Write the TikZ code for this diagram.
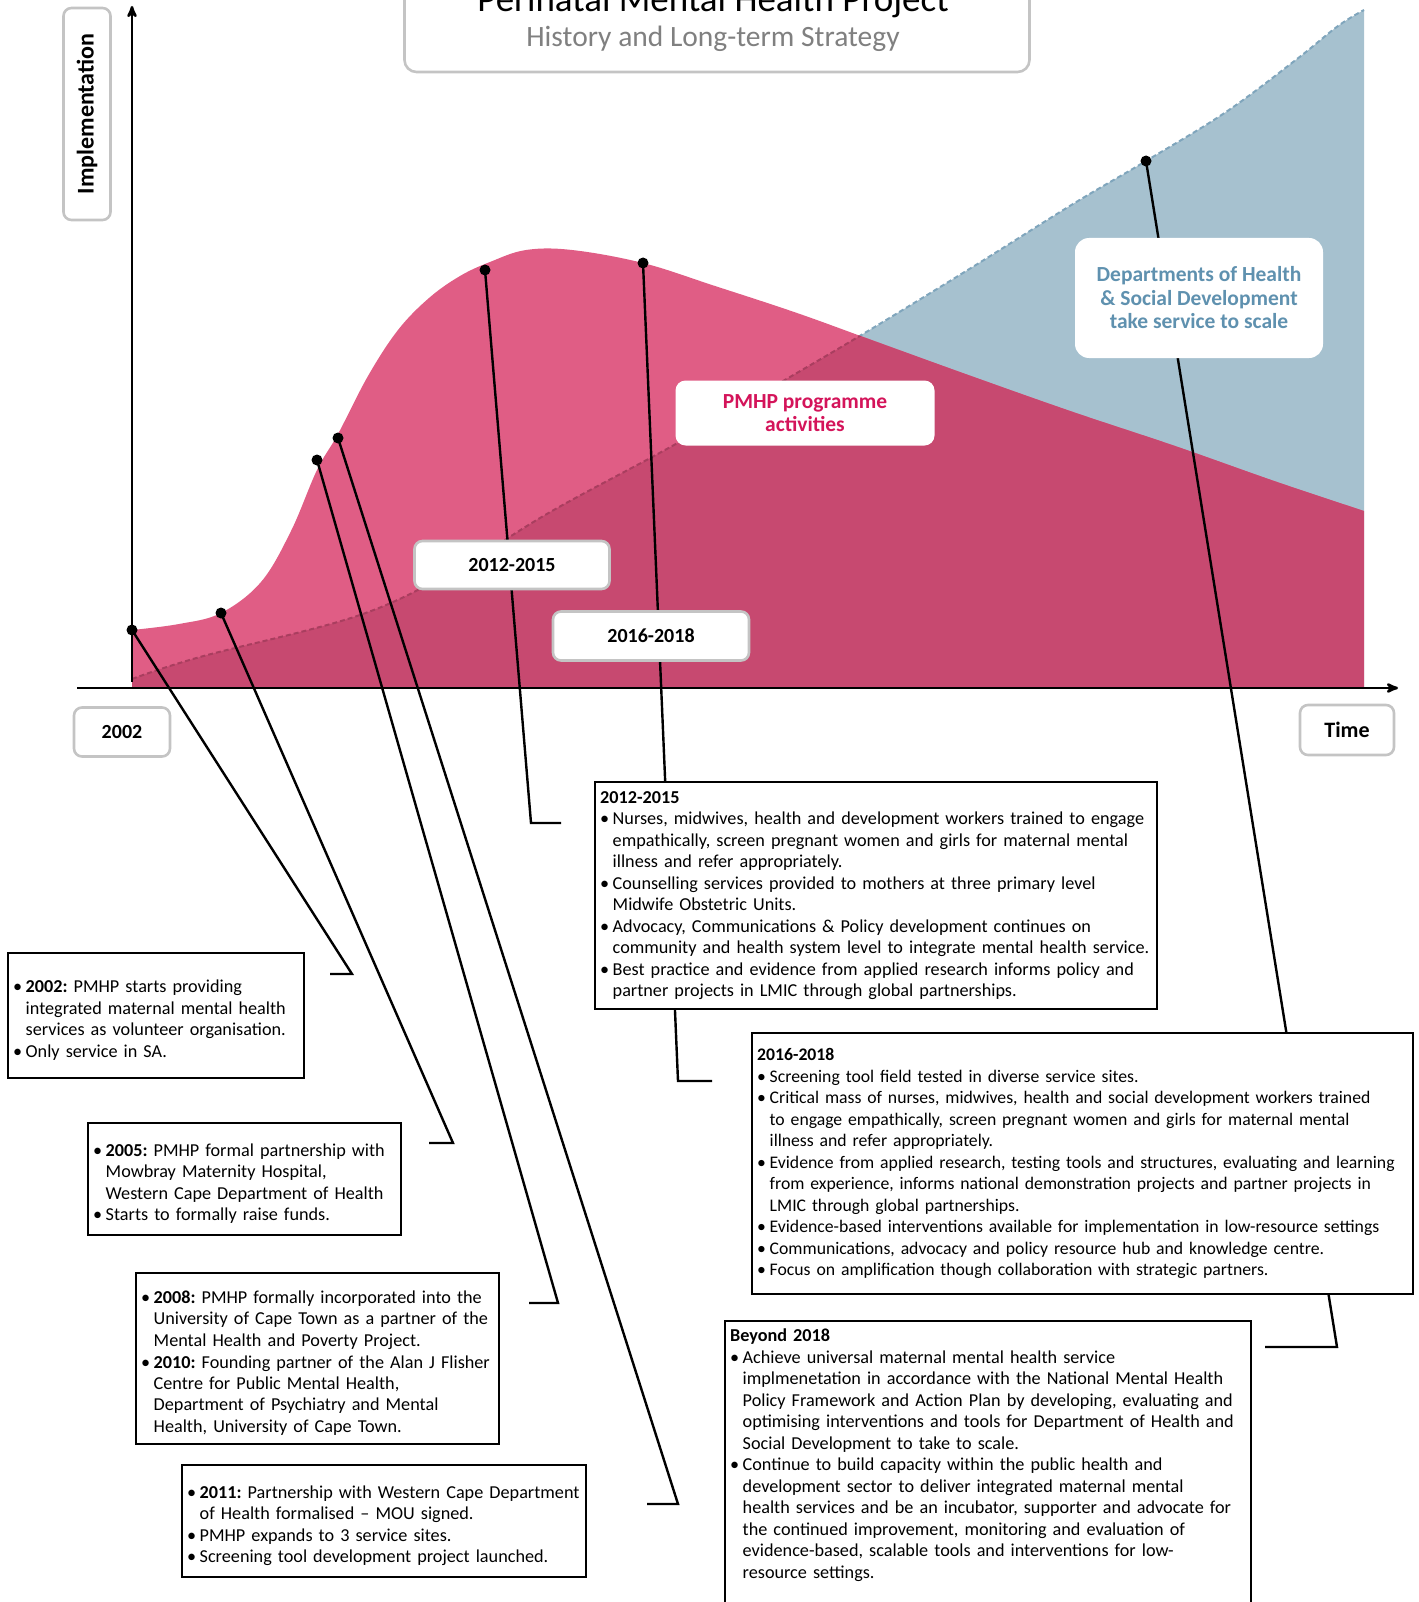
\documentclass[tikz,border=0pt]{standalone}
\usepackage{fontspec}
\setmainfont{Carlito}
\usepackage{tikz}
\usetikzlibrary{arrows}
\definecolor{pmhppink}{HTML}{E05D85}
\definecolor{pmhpdark}{HTML}{C74970}
\definecolor{dohblue}{HTML}{A6C1CF}
\definecolor{dohline}{HTML}{7FA5BC}
\definecolor{dohtext}{HTML}{5F91AF}
\definecolor{pmhptext}{HTML}{D4145A}
\definecolor{tagborder}{HTML}{C4C4C4}
\newcommand{\bul}{\par\hangindent=12.5pt\hangafter=1\noindent\makebox[12.5pt][l]{\textbullet}}
\frenchspacing

\begin{document}
\begin{tikzpicture}[x=1pt,y=-1pt,>=stealth']
	\tikzstyle{infobox}=[draw=black,line width=2.4pt,fill=white,anchor=north west,align=left,
		inner xsep=5pt,inner ysep=6pt,font=\fontsize{18.2}{21.5}\selectfont]
	\tikzstyle{tag}=[draw=tagborder,line width=2.6pt,rounded corners=8pt,fill=white,
		font=\bfseries\fontsize{20}{24}\selectfont]
	\tikzstyle{bubble}=[fill=white,rounded corners=14pt,align=center,
		font=\bfseries\fontsize{21.5}{23.5}\selectfont]
	\tikzstyle{dot}=[circle,fill=black,inner sep=0pt,minimum size=11pt]
	\tikzstyle{conn}=[line width=2.4pt]
	\tikzstyle{axis}=[->,line width=2.6pt]

	\useasboundingbox (0,0) rectangle (1418,1602);

	% areas
	\fill[dohblue] (132,688) -- plot[smooth,tension=0.6] coordinates {(132,679) (200,657) (360,615) (460,567) (552,511) (674,445) (766,391) (858,337) (971,268) (1073,204) (1146,161) (1226,112) (1297,59) (1338,26) (1364,10)} -- (1364,688) -- cycle;
	\draw[dohline,line width=2pt,dash pattern=on 5pt off 3pt] plot[smooth,tension=0.6] coordinates {(132,679) (200,657) (360,615) (460,567) (552,511) (674,445) (766,391) (858,337) (971,268) (1073,204) (1146,161) (1226,112) (1297,59) (1338,26) (1364,10)};
	\fill[pmhppink] (132,688) -- plot[smooth,tension=0.6] coordinates {(132,630) (179,624) (221,613) (261,582) (291,531) (317,470) (338,434) (368,376) (398,330) (429,298) (460,276) (490,262) (526,250) (572,250) (643,263) (715,286) (797,313) (877,342) (971,376) (1073,412) (1175,446) (1277,482) (1364,511)} -- (1364,688) -- cycle;
	\begin{scope}
		\clip (132,688) -- plot[smooth,tension=0.6] coordinates {(132,630) (179,624) (221,613) (261,582) (291,531) (317,470) (338,434) (368,376) (398,330) (429,298) (460,276) (490,262) (526,250) (572,250) (643,263) (715,286) (797,313) (877,342) (971,376) (1073,412) (1175,446) (1277,482) (1364,511)} -- (1364,688) -- cycle;
		\fill[pmhpdark] (132,688) -- plot[smooth,tension=0.6] coordinates {(132,679) (200,657) (360,615) (460,567) (552,511) (674,445) (766,391) (858,337) (971,268) (1073,204) (1146,161) (1226,112) (1297,59) (1338,26) (1364,10)} -- (1364,688) -- cycle;
		\draw[pmhpdark!85!black,line width=2pt,dash pattern=on 5pt off 3pt] plot[smooth,tension=0.6] coordinates {(132,679) (200,657) (360,615) (460,567) (552,511) (674,445) (766,391) (858,337) (971,268) (1073,204) (1146,161) (1226,112) (1297,59) (1338,26) (1364,10)};
	\end{scope}

	% axes
	\coordinate (ybot) at (132,682);
	\coordinate (ytop) at (132,6);
	\coordinate (xleft) at (77,688);
	\coordinate (xright) at (1398,688);
	\draw[axis] (ybot) -- (ytop);
	\draw[axis] (xleft) -- (xright);

	% title
	\node[draw=tagborder,line width=2.6pt,rounded corners=12pt,fill=white,minimum width=625pt,minimum height=112pt] (titlebox) at (717,16) {};
	\node[anchor=base,font=\fontsize{37}{42}\selectfont] (title) at (713,12) {Perinatal Mental Health Project};
	\node[anchor=base,text=black!50,font=\fontsize{29.5}{34}\selectfont] (subtitle) at (713,47) {History and Long-term Strategy};

	% points on the curves
	\node[dot] (d2002) at (132,630) {};
	\node[dot] (d2005) at (221,613) {};
	\node[dot] (d2008) at (317,460) {};
	\node[dot] (d2011) at (338,438) {};
	\node[dot] (d1215) at (485,270) {};
	\node[dot] (d1618) at (643,263) {};
	\node[dot] (ddoh) at (1146,161) {};

	\coordinate (e2002) at (352,974);   \coordinate (s2002) at (330,974);
	\coordinate (e2005) at (453,1143);  \coordinate (s2005) at (429,1143);
	\coordinate (e2008) at (558,1303);  \coordinate (s2008) at (529,1303);
	\coordinate (e2011) at (678,1504);  \coordinate (s2011) at (647,1504);
	\coordinate (e1215) at (531,823);   \coordinate (s1215) at (561,823);
	\coordinate (e1618) at (678,1081);  \coordinate (s1618) at (712,1081);
	\coordinate (edoh) at (1337,1347);  \coordinate (sdoh) at (1265,1347);

	\draw[conn] (d2002.center) -- (e2002) -- (s2002);
	\draw[conn] (d2005.center) -- (e2005) -- (s2005);
	\draw[conn] (d2008.center) -- (e2008) -- (s2008);
	\draw[conn] (d2011.center) -- (e2011) -- (s2011);
	\draw[conn] (d1215.center) -- (e1215) -- (s1215);
	\draw[conn] (d1618.center) -- (e1618) -- (s1618);
	\draw[conn] (ddoh.center) -- (edoh) -- (sdoh);

	% tags
	\node[tag,minimum width=195pt,minimum height=48pt] (t1215) at (512,565) {2012-2015};
	\node[tag,minimum width=196pt,minimum height=49pt] (t1618) at (651,636) {2016-2018};
	\node[tag,minimum width=96pt,minimum height=49pt] (t2002) at (122,732) {2002};
	\node[tag,minimum width=94pt,minimum height=50pt,font=\bfseries\fontsize{22}{26}\selectfont] (ttime) at (1347,730) {Time};
	\node[tag,rotate=90,minimum width=212pt,minimum height=47pt,font=\bfseries\fontsize{24}{28}\selectfont] (timpl) at (87,114) {Implementation};
	\node[bubble,rounded corners=10pt,text=pmhptext,minimum width=259pt,minimum height=65pt] (tpmhp) at (805,413) {PMHP programme\\activities};
	\node[bubble,text=dohtext,minimum width=248pt,minimum height=120pt] (tdoh) at (1199,298) {Departments of Health\\\& Social Development\\take service to scale};

	% boxes
	\node[infobox,minimum width=296pt,minimum height=125pt,text width=286pt] (b2002) at (7,952) {%
		\bul\textbf{2002:} PMHP starts providing\newline integrated maternal mental health\newline services as volunteer organisation.
		\bul Only service in SA.\par};
	\node[infobox,minimum width=313pt,minimum height=112pt,text width=303pt] (b2005) at (87,1122) {%
		\bul\textbf{2005:} PMHP formal partnership with\newline Mowbray Maternity Hospital,\newline Western Cape Department of Health
		\bul Starts to formally raise funds.\par};
	\node[infobox,minimum width=363pt,minimum height=171pt,text width=353pt] (b2008) at (135,1272) {%
		\bul\textbf{2008:} PMHP formally incorporated into the\newline University of Cape Town as a partner of the\newline Mental Health and Poverty Project.
		\bul\textbf{2010:} Founding partner of the Alan J Flisher\newline Centre for Public Mental Health,\newline Department of Psychiatry and Mental\newline Health, University of Cape Town.\par};
	\node[infobox,minimum width=404pt,minimum height=112pt,text width=394pt] (b2011) at (181,1464) {%
		\bul\textbf{2011:} Partnership with Western Cape Department\newline of Health formalised -- MOU signed.
		\bul PMHP expands to 3 service sites.
		\bul Screening tool development project launched.\par};
	\node[infobox,minimum width=562pt,minimum height=227pt,text width=552pt] (b1215) at (594,781) {%
		\textbf{2012-2015}
		\bul Nurses, midwives, health and development workers trained to engage\newline empathically, screen pregnant women and girls for maternal mental\newline illness and refer appropriately.
		\bul Counselling services provided to mothers at three primary level\newline Midwife Obstetric Units.
		\bul Advocacy, Communications \& Policy development continues on\newline community and health system level to integrate mental health service.
		\bul Best practice and evidence from applied research informs policy and\newline partner projects in LMIC through global partnerships.\par};
	\node[infobox,minimum width=661pt,minimum height=261pt,text width=651pt,font=\fontsize{17.7}{21.5}\selectfont] (b1618) at (751,1032) {%
		\textbf{2016-2018}
		\bul Screening tool field tested in diverse service sites.
		\bul Critical mass of nurses, midwives, health and social development workers trained\newline to engage empathically, screen pregnant women and girls for maternal mental\newline illness and refer appropriately.
		\bul Evidence from applied research, testing tools and structures, evaluating and learning\newline from experience, informs national demonstration projects and partner projects in\newline LMIC through global partnerships.
		\bul Evidence-based interventions available for implementation in low-resource settings
		\bul Communications, advocacy and policy resource hub and knowledge centre.
		\bul Focus on amplification though collaboration with strategic partners.\par};
	\node[infobox,minimum width=526pt,text width=516pt,inner ysep=8pt] (b18) at (724,1320) {%
		\textbf{Beyond 2018}
		\bul Achieve universal maternal mental health service\newline implmenetation in accordance with the National Mental Health\newline Policy Framework and Action Plan by developing, evaluating and\newline optimising interventions and tools for Department of Health and\newline Social Development to take to scale.
		\bul Continue to build capacity within the public health and\newline development sector to deliver integrated maternal mental\newline health services and be an incubator, supporter and advocate for\newline the continued improvement, monitoring and evaluation of\newline evidence-based, scalable tools and interventions for low-\newline resource settings.
		\par\noindent\rule{0pt}{60pt}};
\end{tikzpicture}
\end{document}
